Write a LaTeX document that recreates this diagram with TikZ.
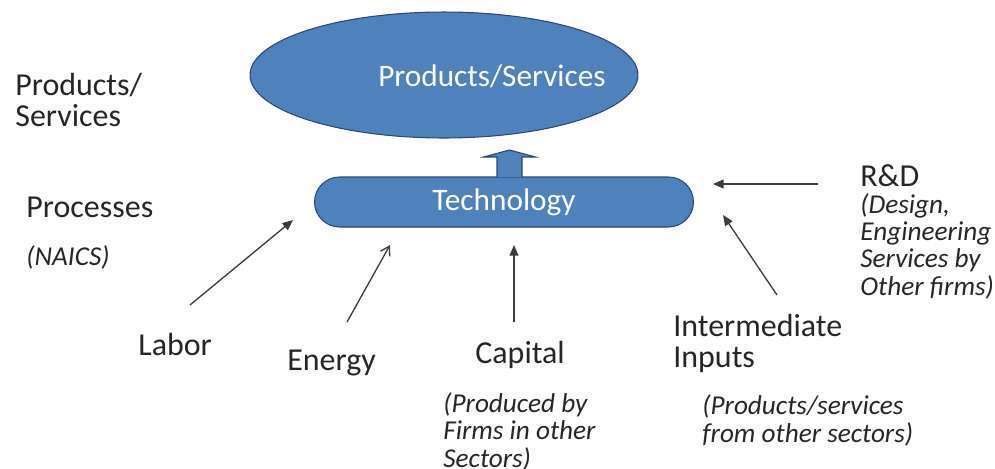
\documentclass[tikz,border=0pt]{standalone}
\usepackage{fontspec}
\setmainfont{Carlito}
\usepackage{tikz}
\usetikzlibrary{arrows.meta, shapes.geometric}
\definecolor{fillblue}{HTML}{4F81BD}
\definecolor{lineblue}{HTML}{2C4770}
\definecolor{ink}{HTML}{262626}

\begin{document}
\begin{tikzpicture} [x = 0.02cm, y = -0.02cm,
  lbl/.style = {anchor = base west, inner sep = 0pt, align = left, text = ink, font = \fontsize{18.2}{17.1}\selectfont},
  note/.style = {anchor = base west, inner sep = 0pt, align = left, text = ink, font = \fontsize{15.5}{15.4}\selectfont\itshape},
  feed/.style = {draw = ink!90, line width = 0.75pt, -{Triangle[length = 6pt, width = 5pt]}},
  blob/.style = {fill = fillblue, draw = lineblue, line width = 0.6pt, text = white, inner sep = 0pt, font = \fontsize{17.8}{20}\selectfont}]
\useasboundingbox (0,0) rectangle (995,468);
\node[blob, ellipse, minimum width = 7.76cm, minimum height = 2.52cm] (prod) at (444,75) {};
\node[text = white, inner sep = 0pt, font = \fontsize{17.8}{20}\selectfont] (prodtxt) at (492,76) {Products/Services};
\node[blob, rounded corners = 0.5cm, minimum width = 7.58cm, minimum height = 1cm] (tech) at (504,202) {Technology};
\coordinate (lift) at (509.5,177);
\filldraw[fill = fillblue, draw = lineblue, line width = 0.6pt] (lift) ++(-12.5,0) -- ++(0,-20) -- ++(-13.5,0) -- ++(26,-7) -- ++(26,7) -- ++(-13.5,0) -- ++(0,20);
\node[lbl] (ps) at (15,126) {Products/\\Services};
\node[lbl] (proc) at (26,217) {Processes};
\node[note] (naics) at (26,265) {(NAICS)};
\node[lbl] (lab) at (138,355) {Labor};
\node[lbl] (ene) at (287,370) {Energy};
\node[lbl] (cap) at (475,363) {Capital};
\node[note] (capnote) at (443,467) {(Produced by\\Firms in other\\Sectors)};
\node[lbl] (inp) at (673,367) {Intermediate\\Inputs};
\node[note] (inpnote) at (702,442) {(Products/services\\from other sectors)};
\node[lbl] (rd) at (860,186) {R\&D};
\node[note] (rdnote) at (860,295) {(Design,\\Engineering\\Services by\\Other firms)};
\coordinate (l0) at (190,305); \coordinate (l1) at (293,220);
\coordinate (e0) at (347,322); \coordinate (e1) at (390,245);
\coordinate (c0) at (514,322); \coordinate (c1) at (514,245);
\coordinate (i0) at (777,295); \coordinate (i1) at (723,215);
\coordinate (r0) at (818,184); \coordinate (r1) at (713,184);
\draw[feed] (l0) -- (l1);
\draw[feed, -{Straight Barb[length = 5pt, width = 6pt]}] (e0) -- (e1);
\draw[feed] (c0) -- (c1);
\draw[feed] (i0) -- (i1);
\draw[feed] (r0) -- (r1);
\end{tikzpicture}
\end{document}
